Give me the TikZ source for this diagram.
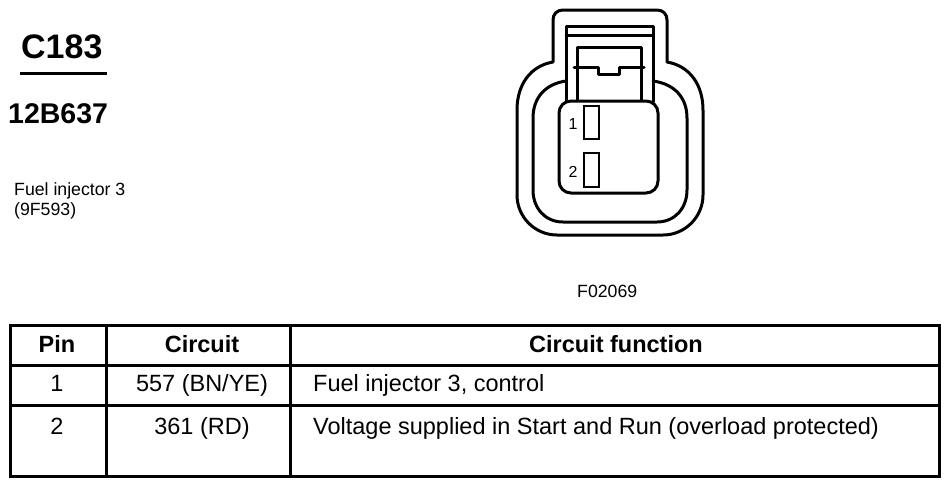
\documentclass[tikz,border=0pt]{standalone}
\usepackage{fontspec}
\setmainfont{Liberation Sans}
\begin{document}
\begin{tikzpicture}[x=1pt,y=-1pt,
  ln/.style={line width=3pt,line join=round,line cap=round},
  tl/.style={line width=3pt},
  txt/.style={inner sep=0pt,anchor=base west},
  ctxt/.style={inner sep=0pt,anchor=base},
  tabfont/.style={font=\fontsize{23.5}{28}\selectfont},
  tabbold/.style={font=\fontsize{23.5}{28}\selectfont\bfseries}]
\useasboundingbox (0,0) rectangle (951,488);
% left texts
\node[txt,font=\fontsize{34}{40}\selectfont\bfseries] (conn) at (21,58) {C183};
\coordinate (ulA) at (20,73);
\coordinate (ulB) at (107,73);
\draw[line width=3pt] (ulA) -- (ulB);
\node[txt,font=\fontsize{28.5}{34}\selectfont\bfseries] (part) at (8,123) {12B637};
\node[txt,font=\fontsize{17.7}{19}\selectfont] (desc1) at (14,195) {Fuel injector 3};
\node[txt,font=\fontsize{17.7}{19}\selectfont] (desc2) at (14,215) {(9F593)};
\node[txt,font=\fontsize{17.7}{19}\selectfont] (fig) at (577,297) {F02069};
% connector outer contour
\draw[ln] (553,62) -- (553,20) .. controls (553,14) and (557,10) .. (563,10) -- (657,10)
  .. controls (663,10) and (667,14) .. (667,20) -- (667,62)
  .. controls (690,66) and (703,85) .. (703,110) -- (703,195)
  .. controls (703,217) and (685,235) .. (663,235) -- (557,235)
  .. controls (535,235) and (517,217) .. (517,195) -- (517,110)
  .. controls (517,85) and (530,66) .. (553,62) -- cycle;
% inner contour
\draw[ln] (566,81) .. controls (545,84) and (533,98) .. (533,118) -- (533,190)
  .. controls (533,208) and (545,222) .. (563,222) -- (657,222)
  .. controls (675,222) and (687,208) .. (687,190) -- (687,118)
  .. controls (687,98) and (675,84) .. (653,81);
% housing
\draw[ln] (566,102) -- (566,26) -- (653,26) -- (653,102);
\draw[ln] (566,35) -- (653,35);
% latch
\draw[ln] (577,102) -- (577,47) -- (641,47) -- (641,102);
\draw[ln] (574,67) -- (598,67) -- (598,74) -- (619,74) -- (619,67) -- (644,67);
% pin face
\draw[ln,fill=white,rounded corners=12pt] (559,101) rectangle (658,193);
\draw[line width=2.5pt] (584,106) rectangle (599,139);
\draw[line width=2.5pt] (584,153) rectangle (599,187);
\node[inner sep=0pt,font=\fontsize{16}{16}\selectfont] (p1) at (573,124) {1};
\node[inner sep=0pt,font=\fontsize{16}{16}\selectfont] (p2) at (573,172) {2};
% table
\draw[tl] (10,325) rectangle (939,476);
\draw[tl] (10,365) -- (939,365);
\draw[tl] (10,405) -- (939,405);
\draw[tl] (106,325) -- (106,476);
\draw[tl] (290,325) -- (290,476);
\node[ctxt,tabbold] (h1) at (57,352) {Pin};
\node[ctxt,tabbold] (h2) at (202,352) {Circuit};
\node[ctxt,tabbold] (h3) at (616,352) {Circuit function};
\node[ctxt,tabfont] (r1a) at (57,391) {1};
\node[ctxt,tabfont] (r1b) at (202,391) {557 (BN/YE)};
\node[txt,tabfont] (r1c) at (313,391) {Fuel injector 3, control};
\node[ctxt,tabfont] (r2a) at (57,434) {2};
\node[ctxt,tabfont] (r2b) at (202,434) {361 (RD)};
\node[txt,tabfont] (r2c) at (313,434) {Voltage supplied in Start and Run (overload protected)};
\end{tikzpicture}
\end{document}
